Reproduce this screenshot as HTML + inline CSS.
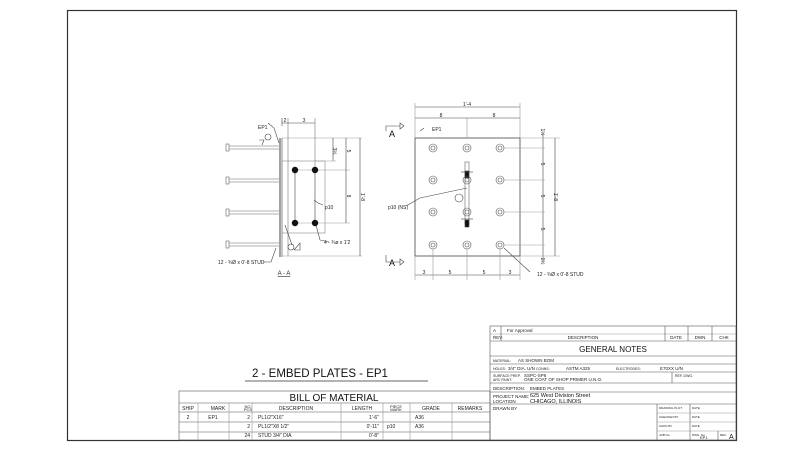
<!DOCTYPE html>
<html><head><meta charset="utf-8"><style>
html,body{margin:0;padding:0;background:#fff;}
svg{display:block;font-family:"Liberation Sans",sans-serif;}
</style></head><body>
<svg width="800" height="450" viewBox="0 0 800 450" xmlns="http://www.w3.org/2000/svg">
<defs><g id="st" fill="none" stroke="#555" stroke-width="0.6"><circle r="4"/><circle r="2"/></g></defs>
<rect width="800" height="450" fill="#fff"/>
<rect x="67.5" y="10.5" width="669" height="430" fill="none" stroke="#333" stroke-width="1.2"/>

<g stroke="#444" stroke-width="0.6" fill="none">
<line x1="280" y1="138" x2="280" y2="257" stroke-width="1"/>
<line x1="282" y1="138" x2="282" y2="257"/>
<line x1="282" y1="138" x2="362" y2="138" stroke="#999"/>
<line x1="282" y1="256" x2="362" y2="256" stroke="#999"/>
<rect x="282" y="161" width="43" height="72" stroke="#888"/>
<line x1="288" y1="118" x2="288" y2="256" stroke="#777"/>
<line x1="295" y1="170" x2="295" y2="223"/>
<line x1="315" y1="170" x2="315" y2="223"/>
<line x1="315" y1="118" x2="315" y2="170" stroke="#777"/>
<line x1="295" y1="170" x2="350" y2="170" stroke="#999"/>
<line x1="295" y1="223" x2="350" y2="223" stroke="#999"/>
<line x1="282" y1="123" x2="315" y2="123"/>
<line x1="282" y1="118" x2="282" y2="126"/>
<line x1="333" y1="138" x2="333" y2="161"/>
<line x1="346" y1="138" x2="346" y2="223"/>
<line x1="360" y1="138" x2="360" y2="256"/>
<line x1="315" y1="161" x2="336" y2="161" stroke="#999"/>
<g stroke="#666">
<line x1="229" y1="146" x2="279" y2="146"/><line x1="229" y1="149" x2="279" y2="149"/><rect x="226" y="144" width="3" height="7"/>
<line x1="229" y1="179" x2="279" y2="179"/><line x1="229" y1="182" x2="279" y2="182"/><rect x="226" y="177" width="3" height="7"/>
<line x1="229" y1="211" x2="279" y2="211"/><line x1="229" y1="214" x2="279" y2="214"/><rect x="226" y="209" width="3" height="7"/>
<line x1="229" y1="243" x2="279" y2="243"/><line x1="229" y1="246" x2="279" y2="246"/><rect x="226" y="241" width="3" height="7"/>
</g>
<polyline points="268,123 274,128 279,143"/>
<polyline points="263,262 271,262 276,248"/>
<polyline points="329,242 320,240 316,225"/>
<polyline points="323,205 318,203 314,200"/>
<circle cx="268" cy="137" r="3"/>
<polyline points="259,140 264,140 262,145"/>
<polyline points="285,225 292,245"/>
<circle cx="291" cy="247" r="3"/>
<polyline points="294,250 300,243 300,250 294,250"/>

<rect x="415" y="138" width="105" height="118" stroke-width="0.8"/>
<line x1="467" y1="118" x2="467" y2="138" stroke="#999"/>
<line x1="415" y1="107" x2="520" y2="107"/>
<line x1="415" y1="118" x2="520" y2="118"/>
<line x1="415" y1="103" x2="415" y2="138" stroke="#999"/>
<line x1="520" y1="103" x2="520" y2="138" stroke="#999"/>
<line x1="415" y1="275" x2="520" y2="275"/>
<line x1="415" y1="256" x2="415" y2="280" stroke="#999"/>
<line x1="433" y1="249" x2="433" y2="280" stroke="#999"/>
<line x1="467" y1="249" x2="467" y2="280" stroke="#999"/>
<line x1="500" y1="249" x2="500" y2="280" stroke="#999"/>
<line x1="520" y1="256" x2="520" y2="280" stroke="#999"/>
<line x1="543" y1="133" x2="543" y2="262"/>
<line x1="555" y1="138" x2="555" y2="256"/>
<line x1="504" y1="148" x2="545" y2="148" stroke="#999"/>
<line x1="504" y1="180" x2="545" y2="180" stroke="#999"/>
<line x1="504" y1="212" x2="545" y2="212" stroke="#999"/>
<line x1="504" y1="245" x2="545" y2="245" stroke="#999"/>
<line x1="520" y1="138" x2="560" y2="138" stroke="#999"/>
<line x1="520" y1="256" x2="560" y2="256" stroke="#999"/>
<rect x="465" y="162" width="4" height="62" stroke="#666"/>
<rect x="465" y="171" width="4" height="7" fill="#111"/>
<rect x="465" y="220" width="4" height="7" fill="#111"/>
<line x1="461" y1="172" x2="473" y2="172"/>
<line x1="461" y1="219" x2="473" y2="219"/>
<circle cx="459" cy="198" r="4"/>
<polyline points="406,206 420,198 467,188"/>
<line x1="504" y1="248" x2="530" y2="272"/>
<line x1="420" y1="131" x2="424" y2="128"/>
<polyline points="386,131 386,126 400,126"/>
<polygon points="400,123 404,126 400,129"/>
<polyline points="386,255 386,262 400,262"/>
<polygon points="400,259 404,262 400,265"/>
</g>
<g fill="#111">
<circle cx="295" cy="170" r="3.2"/><circle cx="315" cy="170" r="3.2"/>
<circle cx="295" cy="223" r="3.2"/><circle cx="315" cy="223" r="3.2"/>
</g>
<use href="#st" x="433" y="148"/><use href="#st" x="467" y="148"/><use href="#st" x="500" y="148"/>
<use href="#st" x="433" y="180"/><use href="#st" x="467" y="180"/><use href="#st" x="500" y="180"/>
<use href="#st" x="433" y="212"/><use href="#st" x="467" y="212"/><use href="#st" x="500" y="212"/>
<use href="#st" x="433" y="245"/><use href="#st" x="467" y="245"/><use href="#st" x="500" y="245"/>
<g font-size="5" fill="#222">
<text x="258" y="129">EP1</text>
<text x="285" y="122" text-anchor="middle">2</text>
<text x="304" y="122" text-anchor="middle">3</text>
<text x="333" y="151" transform="rotate(90 333 151)" text-anchor="middle">3½</text>
<text x="347" y="151" transform="rotate(90 347 151)" text-anchor="middle">5</text>
<text x="347" y="196" transform="rotate(90 347 196)" text-anchor="middle">8</text>
<text x="361" y="197" transform="rotate(90 361 197)" text-anchor="middle">1'-8</text>
<text x="325" y="209">p10</text>
<text x="324" y="244">4 - ¾ø x 1'2</text>
<text x="218" y="264">12 - ¾Ø x 0'-8 STUD</text>
<text x="284" y="275" font-size="6" text-anchor="middle" text-decoration="underline">A - A</text>
<text x="467" y="106" text-anchor="middle">1'-4</text>
<text x="441" y="117" text-anchor="middle">8</text>
<text x="494" y="117" text-anchor="middle">8</text>
<text x="432" y="131">EP1</text>
<text x="388" y="209">p10 (NS)</text>
<text x="424" y="274" text-anchor="middle">3</text>
<text x="450" y="274" text-anchor="middle">5</text>
<text x="484" y="274" text-anchor="middle">5</text>
<text x="510" y="274" text-anchor="middle">3</text>
<text x="537" y="276">12 - ¾Ø x 0'-8 STUD</text>
<text x="541" y="164" transform="rotate(90 541 164)" text-anchor="middle">5</text>
<text x="541" y="196" transform="rotate(90 541 196)" text-anchor="middle">5</text>
<text x="541" y="229" transform="rotate(90 541 229)" text-anchor="middle">5</text>
<text x="541" y="132" transform="rotate(90 541 132)" text-anchor="middle">1½</text>
<text x="541" y="261" transform="rotate(90 541 261)" text-anchor="middle">1½</text>
<text x="554" y="197" transform="rotate(90 554 197)" text-anchor="middle">1'-8</text>
</g>
<text x="389" y="137" font-size="9" fill="#111">A</text>
<text x="389" y="266" font-size="9" fill="#111">A</text>

<text x="320" y="377" font-size="11.5" text-anchor="middle" fill="#111">2 - EMBED PLATES - EP1</text>
<line x1="245" y1="381" x2="428" y2="381" stroke="#666" stroke-width="1"/>

<g stroke="#555" stroke-width="0.6" fill="none">
<rect x="179" y="391" width="311" height="49"/>
<line x1="179" y1="403" x2="490" y2="403"/>
<line x1="179" y1="412" x2="490" y2="412"/>
<line x1="179" y1="422" x2="490" y2="422"/>
<line x1="179" y1="432" x2="490" y2="432"/>
<g stroke="#999"><line x1="198" y1="403" x2="198" y2="440"/>
<line x1="229" y1="403" x2="229" y2="440"/>
<line x1="252" y1="403" x2="252" y2="440"/>
<line x1="341" y1="403" x2="341" y2="440"/>
<line x1="383" y1="403" x2="383" y2="440"/>
<line x1="410" y1="403" x2="410" y2="440"/>
<line x1="452" y1="403" x2="452" y2="440"/></g>
</g>
<text x="334" y="401" font-size="10" text-anchor="middle" fill="#111">BILL OF MATERIAL</text>
<g font-size="5" fill="#222">
<text x="188" y="410" text-anchor="middle">SHIP</text>
<text x="218" y="410" text-anchor="middle">MARK</text>
<text x="248" y="408" text-anchor="middle" font-size="4">NO.</text>
<text x="248" y="411" text-anchor="middle" font-size="4">PCS</text>
<text x="296" y="410" text-anchor="middle">DESCRIPTION</text>
<text x="362" y="410" text-anchor="middle">LENGTH</text>
<text x="396" y="408" text-anchor="middle" font-size="4">PIECE</text>
<text x="396" y="411" text-anchor="middle" font-size="4">MARK</text>
<text x="431" y="410" text-anchor="middle">GRADE</text>
<text x="470" y="410" text-anchor="middle">REMARKS</text>
<text x="188" y="419" text-anchor="middle">2</text>
<text x="213" y="419" text-anchor="middle">EP1</text>
<text x="250" y="419" text-anchor="end">2</text><text x="258" y="419">PL1/2"X16"</text>
<text x="379" y="419" text-anchor="end">1'-6"</text><text x="415" y="419">A36</text>
<text x="250" y="428" text-anchor="end">2</text><text x="258" y="428">PL1/2"X8 1/2"</text>
<text x="379" y="428" text-anchor="end">0'-11"</text><text x="387" y="428">p10</text><text x="415" y="428">A36</text>
<text x="250" y="437" text-anchor="end">24</text><text x="258" y="437">STUD 3/4" DIA</text>
<text x="379" y="437" text-anchor="end">0'-8"</text>
</g>

<g stroke="#555" stroke-width="0.6" fill="none">
<rect x="490" y="326" width="246" height="114"/>
<line x1="490" y1="334" x2="736" y2="334" stroke="#999"/>
<line x1="490" y1="341" x2="736" y2="341"/>
<line x1="490" y1="356" x2="736" y2="356"/>
<line x1="490" y1="364" x2="736" y2="364"/>
<line x1="490" y1="372" x2="736" y2="372"/>
<line x1="490" y1="383" x2="736" y2="383"/>
<line x1="490" y1="392" x2="736" y2="392"/>
<line x1="490" y1="404" x2="736" y2="404"/>
<line x1="665" y1="326" x2="665" y2="341"/>
<line x1="688" y1="326" x2="688" y2="341"/>
<line x1="712" y1="326" x2="712" y2="341"/>
<line x1="501" y1="326" x2="501" y2="341"/>
<line x1="672" y1="372" x2="672" y2="383"/>
<line x1="657" y1="404" x2="657" y2="440"/>
<line x1="690" y1="404" x2="690" y2="440"/>
<line x1="657" y1="413" x2="736" y2="413" stroke="#999"/>
<line x1="657" y1="422" x2="736" y2="422" stroke="#999"/>
<line x1="657" y1="431" x2="736" y2="431" stroke="#999"/>
<line x1="718" y1="431" x2="718" y2="440"/>
</g>
<g font-size="4.5" fill="#222">
<text x="493" y="332">A</text><text x="507" y="332">For Approval</text>
<text x="493" y="339">REV.</text><text x="583" y="339" text-anchor="middle">DESCRIPTION</text>
<text x="676" y="339" text-anchor="middle">DATE</text><text x="700" y="339" text-anchor="middle">DWN</text><text x="724" y="339" text-anchor="middle">CHK</text>
<text x="493" y="362" font-size="3.5">MATERIAL:</text><text x="518" y="362">AS SHOWN BOM</text>
<text x="493" y="370" font-size="3.5">HOLES:</text><text x="508" y="370">3/4"  DIA. U/N</text><text x="536" y="370" font-size="3.5">CONNS:</text><text x="566" y="370">ASTM A325</text><text x="616" y="370" font-size="3.5">ELECTRODES:</text><text x="660" y="370">E70XX U/N</text>
<text x="493" y="377" font-size="3.5">SURFACE PREP.</text><text x="524" y="377">SSPC-SP6</text><text x="675" y="377" font-size="3.5">REF. DWG.</text>
<text x="493" y="381" font-size="3.5">ARC PAINT:</text><text x="524" y="381">ONE COAT OF SHOP PRIMER U.N.O.</text>
<text x="493" y="390">DESCRIPTION:</text><text x="530" y="390">EMBED PLATES</text>
<text x="493" y="398">PROJECT NAME:</text><text x="493" y="403">LOCATION</text>
<text x="493" y="410">DRAWN BY</text>
<g font-size="3"><text x="659" y="409">DRAWING PLOT</text><text x="659" y="418">CHECKED BY</text><text x="659" y="427">CHKD BY</text><text x="659" y="436">JOB No.</text>
<text x="692" y="409">DATE</text><text x="692" y="418">DATE</text><text x="692" y="427">DATE</text><text x="692" y="436">DWG. No.</text><text x="720" y="436">REV.</text></g>
<text x="700" y="439" font-size="4">EP1</text>
</g>
<text x="613" y="352" font-size="8" text-anchor="middle" fill="#111">GENERAL NOTES</text>
<text x="530" y="397" font-size="5.5" fill="#111">625 West Division Street</text>
<text x="530" y="403" font-size="5.5" fill="#111">CHICAGO, ILLINOIS</text>
<text x="729" y="439" font-size="7" fill="#111">A</text>
</svg>
</body></html>
